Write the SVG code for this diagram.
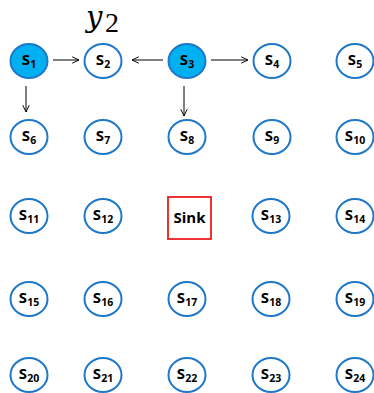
<svg xmlns="http://www.w3.org/2000/svg" width="374" height="393" viewBox="0 0 374 393">
<style>
.n{fill:#fff;stroke:#1F78C8;stroke-width:2}
.f{fill:#00B0F0;stroke:#1F78C8;stroke-width:2}
.t{font-family:"Open Sans","Liberation Sans",sans-serif;font-weight:bold;font-size:15px;fill:#000;text-anchor:middle}
.t tspan.s{font-size:10.5px}
.c{stroke:#000;stroke-width:1;fill:none}
</style>
<defs>
<marker id="a" viewBox="0 0 10 10" refX="9.5" refY="5" markerWidth="8" markerHeight="8" markerUnits="userSpaceOnUse" orient="auto">
<path d="M1,1 L9.5,5 L1,9" fill="none" stroke="#000" stroke-width="1.2"/>
</marker>
</defs>
<rect width="374" height="393" fill="#fff"/>
<g id="label-y2">
<text x="86" y="27" font-family="DejaVu Serif,serif" font-style="italic" font-size="29">y</text>
<text x="105" y="32" font-family="Liberation Serif,serif" font-size="28">2</text>
</g>
<g id="connectors">
<line class="c" x1="53" y1="60" x2="79" y2="60" marker-end="url(#a)"/>
<line class="c" x1="163" y1="60" x2="132" y2="60" marker-end="url(#a)"/>
<line class="c" x1="211" y1="60" x2="248" y2="60" marker-end="url(#a)"/>
<line class="c" x1="26" y1="86" x2="26" y2="112" marker-end="url(#a)"/>
<line class="c" x1="184" y1="86" x2="184" y2="116" marker-end="url(#a)"/>
</g>
<g id="s1"><ellipse class="f" cx="29" cy="61" rx="18.5" ry="17"/><text class="t" x="29" y="65">S<tspan class="s" dy="3">1</tspan></text></g>
<g id="s2"><ellipse class="n" cx="103" cy="61" rx="18.5" ry="17"/><text class="t" x="103" y="65">S<tspan class="s" dy="3">2</tspan></text></g>
<g id="s3"><ellipse class="f" cx="187" cy="61" rx="18.5" ry="17"/><text class="t" x="187" y="65">S<tspan class="s" dy="3">3</tspan></text></g>
<g id="s4"><ellipse class="n" cx="272" cy="61" rx="18.5" ry="17"/><text class="t" x="272" y="65">S<tspan class="s" dy="3">4</tspan></text></g>
<g id="s5"><ellipse class="n" cx="355" cy="61" rx="18.5" ry="17"/><text class="t" x="355" y="65">S<tspan class="s" dy="3">5</tspan></text></g>
<g id="s6"><ellipse class="n" cx="29" cy="137" rx="18.5" ry="17"/><text class="t" x="29" y="141">S<tspan class="s" dy="3">6</tspan></text></g>
<g id="s7"><ellipse class="n" cx="103" cy="137" rx="18.5" ry="17"/><text class="t" x="103" y="141">S<tspan class="s" dy="3">7</tspan></text></g>
<g id="s8"><ellipse class="n" cx="187" cy="137" rx="18.5" ry="17"/><text class="t" x="187" y="141">S<tspan class="s" dy="3">8</tspan></text></g>
<g id="s9"><ellipse class="n" cx="272" cy="137" rx="18.5" ry="17"/><text class="t" x="272" y="141">S<tspan class="s" dy="3">9</tspan></text></g>
<g id="s10"><ellipse class="n" cx="355" cy="137" rx="18.5" ry="17"/><text class="t" x="355" y="141">S<tspan class="s" dy="3">10</tspan></text></g>
<g id="s11"><ellipse class="n" cx="29" cy="216" rx="18.5" ry="17"/><text class="t" x="29" y="220">S<tspan class="s" dy="3">11</tspan></text></g>
<g id="s12"><ellipse class="n" cx="103" cy="216" rx="18.5" ry="17"/><text class="t" x="103" y="220">S<tspan class="s" dy="3">12</tspan></text></g>
<g id="sink"><rect x="168" y="197" width="43" height="42" fill="#fff" stroke="#EE1C1C" stroke-width="1.8"/><text class="t" x="189.5" y="223">Sink</text></g>
<g id="s13"><ellipse class="n" cx="271" cy="216" rx="18.5" ry="17"/><text class="t" x="271" y="220">S<tspan class="s" dy="3">13</tspan></text></g>
<g id="s14"><ellipse class="n" cx="355" cy="216" rx="18.5" ry="17"/><text class="t" x="355" y="220">S<tspan class="s" dy="3">14</tspan></text></g>
<g id="s15"><ellipse class="n" cx="29" cy="299" rx="18.5" ry="17"/><text class="t" x="29" y="303">S<tspan class="s" dy="3">15</tspan></text></g>
<g id="s16"><ellipse class="n" cx="103" cy="299" rx="18.5" ry="17"/><text class="t" x="103" y="303">S<tspan class="s" dy="3">16</tspan></text></g>
<g id="s17"><ellipse class="n" cx="187" cy="299" rx="18.5" ry="17"/><text class="t" x="187" y="303">S<tspan class="s" dy="3">17</tspan></text></g>
<g id="s18"><ellipse class="n" cx="271" cy="299" rx="18.5" ry="17"/><text class="t" x="271" y="303">S<tspan class="s" dy="3">18</tspan></text></g>
<g id="s19"><ellipse class="n" cx="355" cy="299" rx="18.5" ry="17"/><text class="t" x="355" y="303">S<tspan class="s" dy="3">19</tspan></text></g>
<g id="s20"><ellipse class="n" cx="29" cy="375" rx="18.5" ry="17"/><text class="t" x="29" y="379">S<tspan class="s" dy="3">20</tspan></text></g>
<g id="s21"><ellipse class="n" cx="103" cy="375" rx="18.5" ry="17"/><text class="t" x="103" y="379">S<tspan class="s" dy="3">21</tspan></text></g>
<g id="s22"><ellipse class="n" cx="187" cy="375" rx="18.5" ry="17"/><text class="t" x="187" y="379">S<tspan class="s" dy="3">22</tspan></text></g>
<g id="s23"><ellipse class="n" cx="271" cy="375" rx="18.5" ry="17"/><text class="t" x="271" y="379">S<tspan class="s" dy="3">23</tspan></text></g>
<g id="s24"><ellipse class="n" cx="355" cy="375" rx="18.5" ry="17"/><text class="t" x="355" y="379">S<tspan class="s" dy="3">24</tspan></text></g>
</svg>
